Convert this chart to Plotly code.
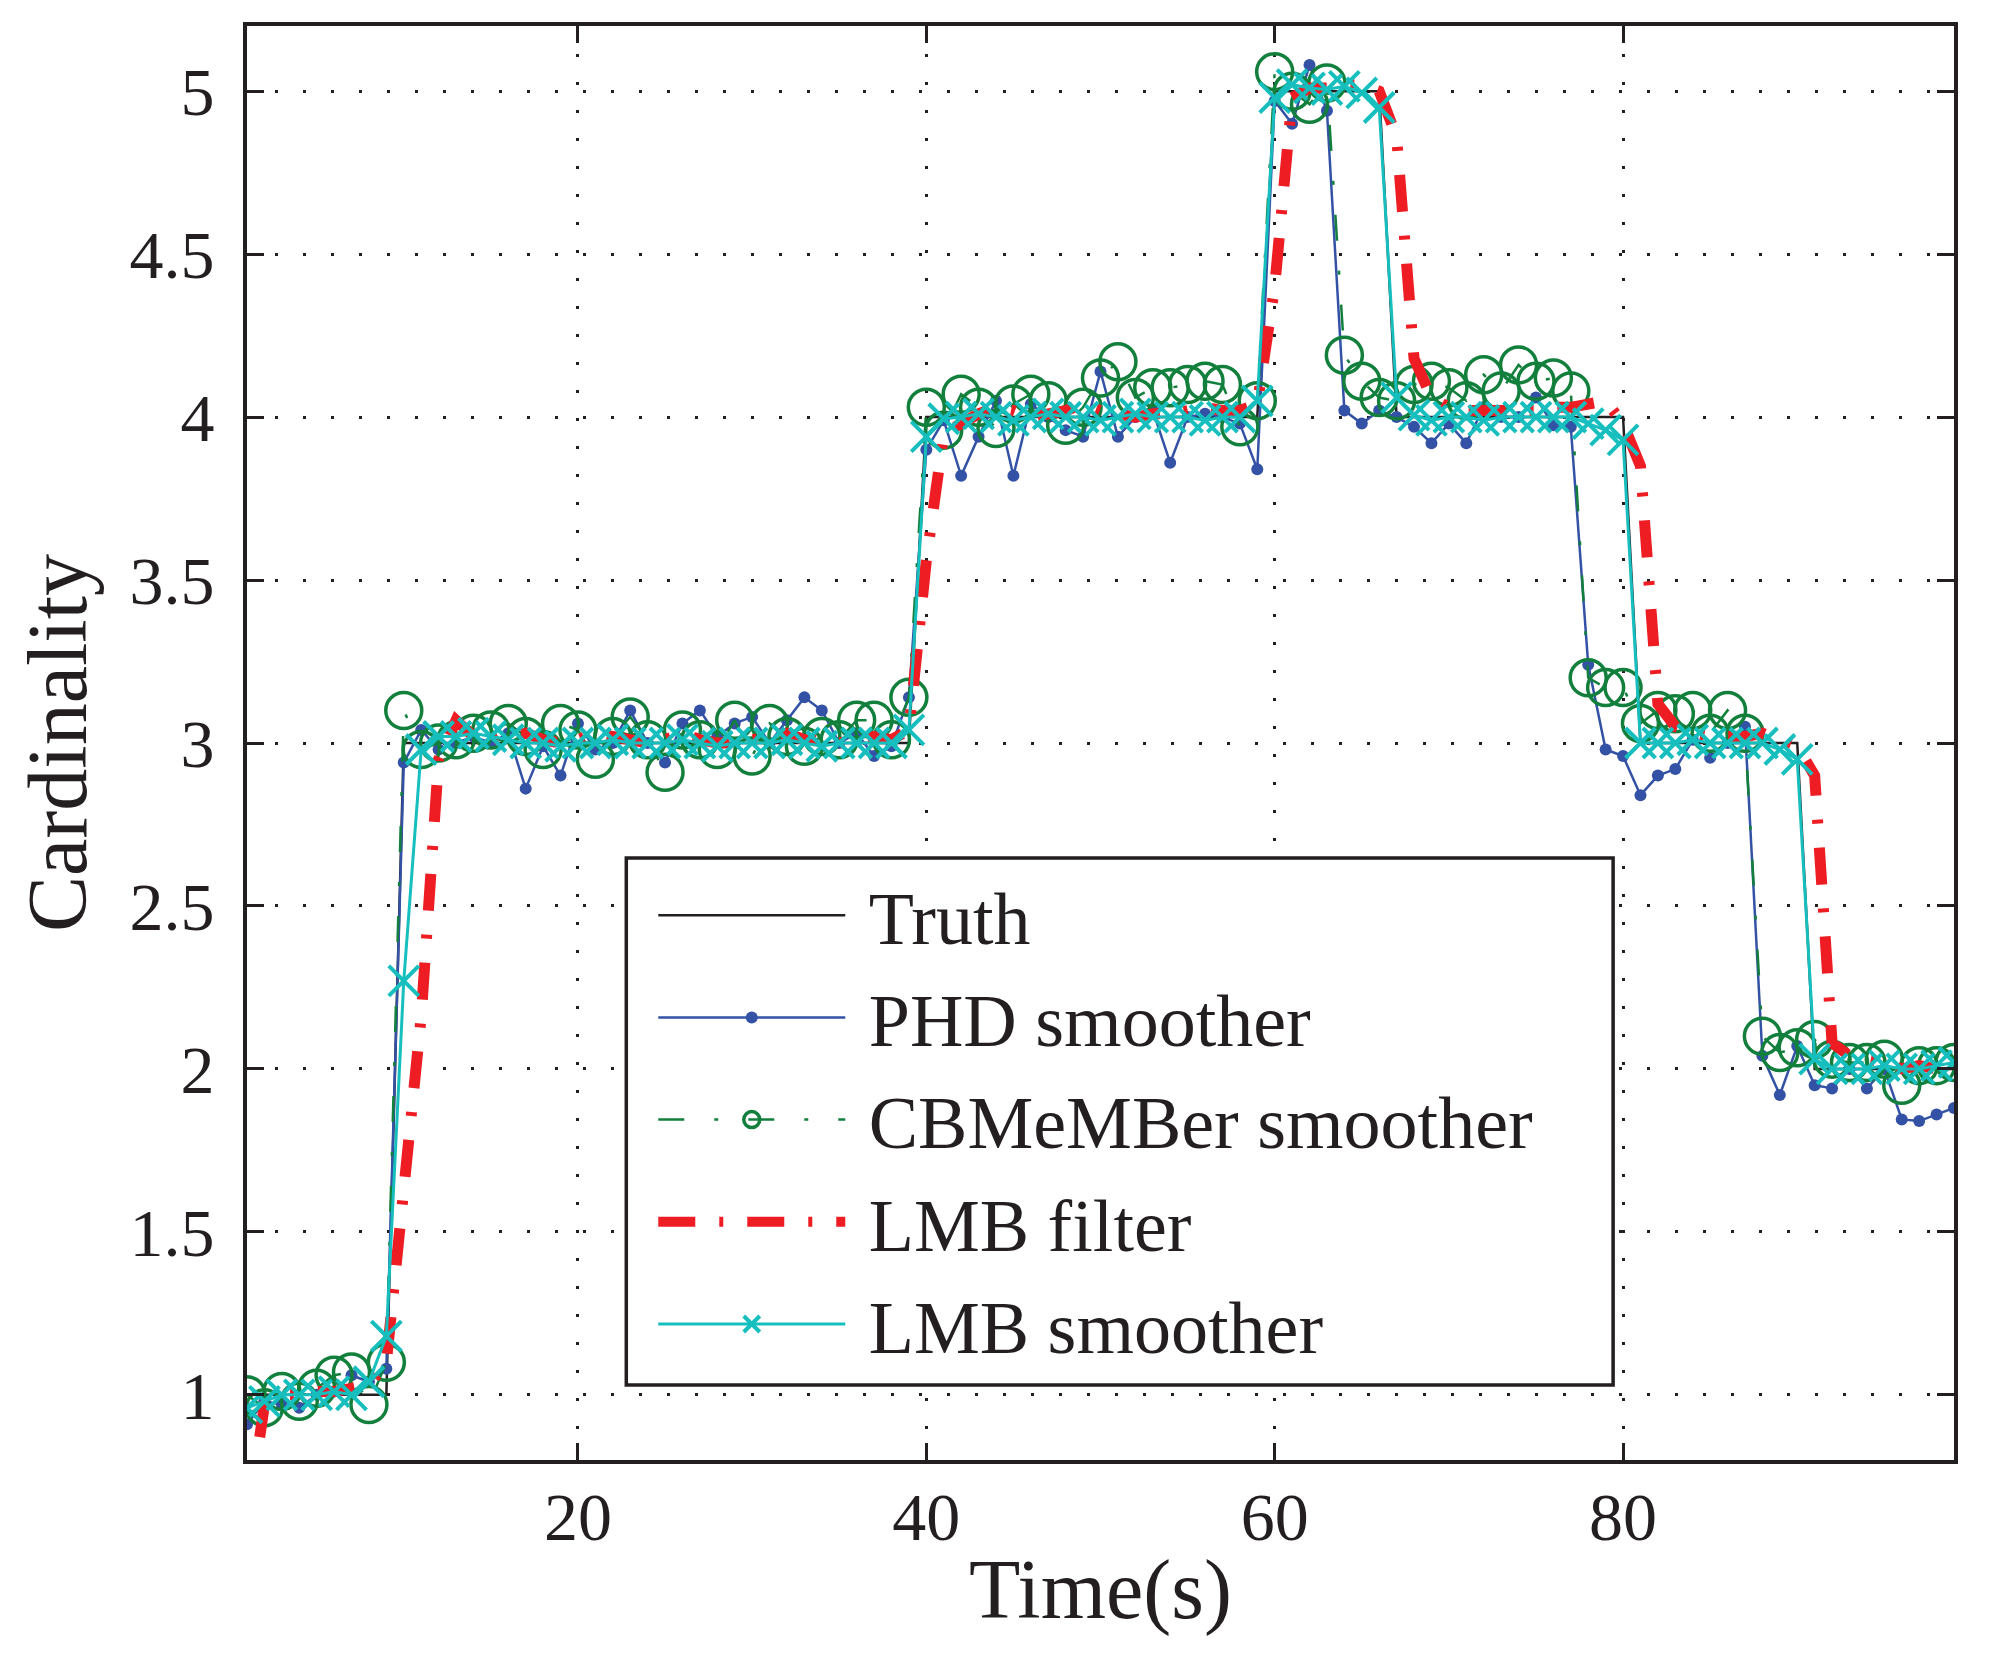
import plotly.graph_objects as go

# Cardinality estimates over time
time = list(range(1, 100))

truth = ([1] * 9 + [3] * 30 + [4] * 20 + [5] * 7 + [4] * 14 + [3] * 10 + [2] * 9)

phd = [0.91, 0.98, 0.97, 0.96, 1.00, 1.01, 1.06, 1.04, 1.08, 2.94,
       3.04, 2.98, 3.00, 3.02, 3.00, 3.03, 2.86, 2.99, 2.90, 3.06,
       2.98, 3.00, 3.10, 3.00, 2.94, 3.06, 3.10, 3.02, 3.06, 3.08,
       3.00, 3.07, 3.14, 3.10, 3.00, 3.03, 2.96, 2.99, 3.14, 3.90,
       3.99, 3.82, 3.94, 4.05, 3.82, 4.04, 4.00, 3.96, 3.94, 4.14,
       3.94, 4.00, 4.02, 3.86, 4.00, 4.01, 4.00, 3.98, 3.84, 4.97,
       4.90, 5.08, 4.94, 4.02, 3.98, 4.02, 4.00, 3.97, 3.92, 3.98,
       3.92, 4.03, 4.00, 4.00, 4.06, 3.975, 3.97, 3.24, 2.98, 2.96,
       2.84, 2.90, 2.92, 3.01, 2.955, 3.00, 3.05, 2.04, 1.92, 2.07,
       1.95, 1.94, 2.00, 1.94, 2.00, 1.845, 1.84, 1.86, 1.88]

cbmember = [1.00, 0.96, 1.01, 0.98, 1.02, 1.06, 1.07, 0.97, 1.10, 3.10,
            2.98, 3.00, 3.01, 3.03, 3.04, 3.06, 3.02, 2.98, 3.06, 3.04,
            2.95, 3.02, 3.08, 3.01, 2.91, 3.04, 3.01, 2.98, 3.07, 2.96,
            3.06, 3.02, 2.99, 3.02, 3.01, 3.07, 3.07, 3.01, 3.14, 4.03,
            3.96, 4.07, 4.03, 3.965, 4.04, 4.07, 4.05, 3.975, 4.03, 4.12,
            4.17, 4.06, 4.09, 4.09, 4.10, 4.11, 4.10, 3.97, 4.05, 5.06,
            5.00, 4.96, 5.025, 4.19, 4.11, 4.06, 4.05, 4.10, 4.11, 4.09,
            4.05, 4.13, 4.08, 4.16, 4.11, 4.12, 4.08, 3.20, 3.17, 3.17,
            3.06, 3.10, 3.09, 3.10, 3.03, 3.10, 3.03, 2.10, 2.05, 2.065,
            2.09, 2.03, 2.02, 2.02, 2.03, 1.95, 2.01, 2.01, 2.02]

lmb_filter = [0.60, 0.97, 1.00, 1.00, 1.01, 1.01, 1.02, 1.03, 1.10, 1.67,
              2.16, 2.95, 3.07, 3.02, 3.01, 3.02, 3.03, 3.01, 3.00, 3.01,
              3.03, 3.02, 3.01, 3.00, 3.01, 3.03, 3.01, 3.00, 3.00, 3.01,
              3.02, 3.03, 3.01, 3.01, 3.00, 3.01, 3.02, 3.01, 3.04, 3.56,
              3.95, 3.98, 4.01, 4.03, 4.02, 4.00, 4.01, 4.02, 4.04, 4.02,
              4.01, 4.00, 4.01, 4.01, 4.02, 4.03, 4.02, 4.02, 4.04, 4.40,
              4.98, 5.01, 5.01, 5.02, 5.02, 5.00, 4.86, 4.18, 4.06, 4.03,
              4.02, 4.02, 4.02, 4.02, 4.02, 4.03, 4.03, 4.04, 4.05, 3.98,
              3.85, 3.12, 3.05, 3.03, 3.02, 3.02, 3.02, 3.03, 3.01, 2.99,
              2.90, 2.08, 2.04, 2.03, 2.02, 2.00, 2.01, 2.00, 2.01]

lmb_smoother = [0.96, 0.98, 1.00, 1.00, 1.00, 1.01, 1.00, 1.04, 1.18, 2.27,
                2.98, 3.02, 3.02, 3.03, 3.02, 3.01, 3.00, 3.00, 2.99, 3.00,
                3.00, 3.01, 3.00, 3.00, 3.00, 3.01, 3.00, 2.99, 3.00, 3.00,
                3.00, 3.01, 3.00, 2.99, 3.00, 3.00, 3.00, 3.00, 3.04, 3.94,
                3.995, 4.00, 4.01, 4.00, 3.99, 4.00, 4.01, 4.00, 4.00, 3.99,
                4.00, 4.01, 4.00, 4.00, 4.00, 3.99, 4.00, 4.00, 4.05, 4.98,
                5.02, 5.01, 5.005, 5.015, 4.995, 4.95, 4.06, 4.006, 3.99, 4.00,
                4.00, 3.99, 4.00, 4.00, 4.00, 4.00, 4.00, 3.98, 3.96, 3.93,
                3.00, 3.00, 3.00, 3.01, 3.00, 3.00, 3.00, 3.00, 2.98, 2.95,
                2.03, 2.00, 2.00, 2.00, 2.01, 2.00, 2.00, 2.01, 2.02]

y_ticks = [1, 1.5, 2, 2.5, 3, 3.5, 4, 4.5, 5]
y_labels = ["1", "1.5", "2", "2.5", "3", "3.5", "4", "4.5", "5"]
x_ticks = [20, 40, 60, 80]

FONT = "Liberation Serif"
BLACK = "#231f20"
NB = "\u00a0"  # small gap between legend sample and its label

fig = go.Figure()

fig.add_trace(go.Scatter(x=time, y=truth, name=NB + "Truth", mode="lines",
                         legendgroup="a",
                         line=dict(color=BLACK, width=2.5)))
fig.add_trace(go.Scatter(x=time, y=phd, name=NB + "PHD smoother", mode="lines+markers",
                         legendgroup="b",
                         line=dict(color="#3352a5", width=2.5),
                         marker=dict(symbol="circle", size=12, color="#3352a5")))
fig.add_trace(go.Scatter(x=time, y=cbmember, name=NB + "CBMeMBer smoother", mode="lines+markers",
                         legendgroup="c",
                         line=dict(color="#12803c", width=2.5, dash="26px,30px,4px,30px"),
                         marker=dict(symbol="circle-open", size=36, color="#12803c",
                                     line=dict(width=3.5, color="#12803c"))))
fig.add_trace(go.Scatter(x=time, y=lmb_filter, name=NB + "LMB filter", mode="lines",
                         legendgroup="d",
                         line=dict(color="#ee1d23", width=11, dash="37px,24px,4px,24px")))
fig.add_trace(go.Scatter(x=time, y=lmb_smoother, name=NB + "LMB smoother", mode="lines+markers",
                         legendgroup="e",
                         line=dict(color="#17bebe", width=3),
                         marker=dict(symbol="x-thin-open", size=30, color="#17bebe",
                                     line=dict(width=4, color="#17bebe"))))

axis_common = dict(
    showline=True, linecolor=BLACK, linewidth=4, mirror="ticks",
    ticks="inside", ticklen=17, tickwidth=3, tickcolor=BLACK,
    showgrid=True, gridcolor=BLACK, gridwidth=2.5, griddash="3px,25px",
    zeroline=False,
    tickfont=dict(family=FONT, size=68, color=BLACK),
)

fig.update_xaxes(range=[1, 99], tickvals=x_ticks, ticklabelstandoff=-6,
                 title=dict(text="Time(s)", font=dict(family=FONT, size=84, color=BLACK),
                            standoff=7),
                 **axis_common)
fig.update_yaxes(range=[0.8, 5.2], tickvals=y_ticks, ticktext=y_labels, ticklabelstandoff=15,
                 title=dict(text="Cardinality", font=dict(family=FONT, size=84, color=BLACK),
                            standoff=16),
                 **axis_common)

# legend frame (opaque box behind the legend entries)
fig.add_shape(type="rect", xref="paper", yref="paper",
              x0=0.2222, x1=0.8003, y0=0.0523, y1=0.4198,
              line=dict(color=BLACK, width=3.5), fillcolor="white", layer="above")

fig.update_layout(
    width=2007, height=1669,
    margin=dict(l=239, r=61, t=18, b=217),
    plot_bgcolor="white", paper_bgcolor="white",
    font=dict(family=FONT, size=74, color=BLACK),
    legend=dict(x=0.238, y=0.418, xanchor="left", yanchor="top",
                bgcolor="rgba(0,0,0,0)", borderwidth=0,
                itemwidth=187, tracegroupgap=3,
                font=dict(family=FONT, size=74, color=BLACK)),
)

fig.write_html("out.html")
